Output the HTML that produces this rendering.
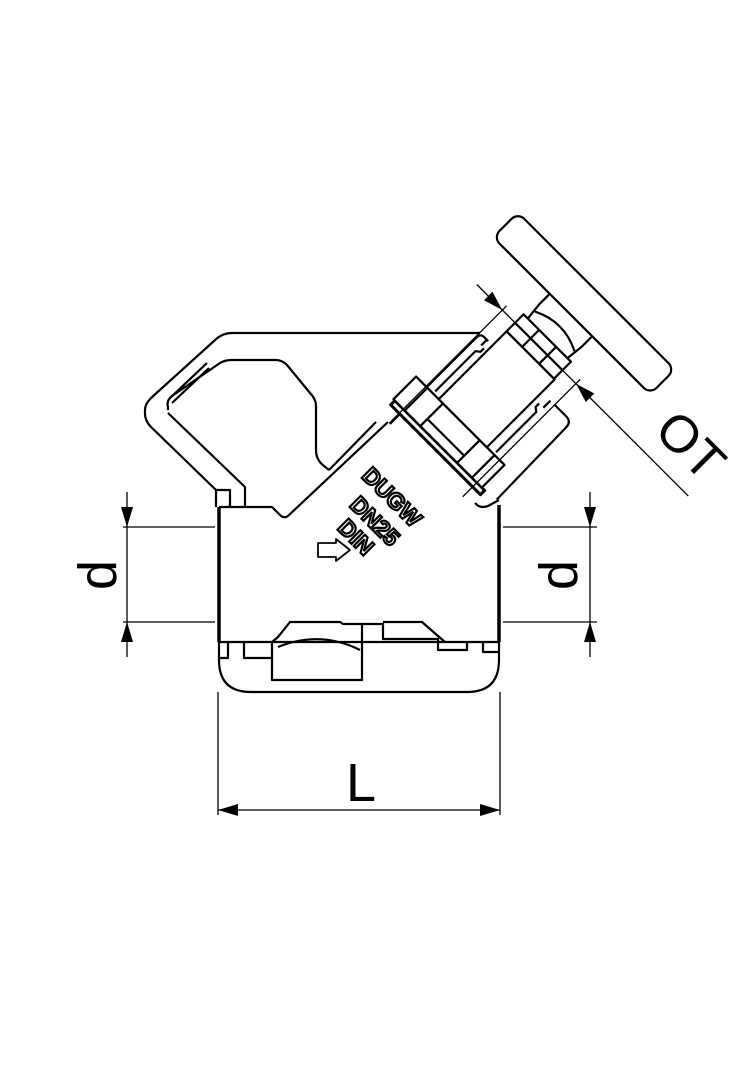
<!DOCTYPE html>
<html><head><meta charset="utf-8"><style>
html,body{margin:0;padding:0;background:#fff}
svg{display:block}
text{font-family:"Liberation Sans",sans-serif}
</style></head><body>
<svg width="756" height="1080" viewBox="0 0 756 1080" xmlns="http://www.w3.org/2000/svg">
<rect width="756" height="1080" fill="#fff"/>
<g fill="none" stroke="#000" stroke-width="2.2" stroke-linejoin="round">
<!-- outer loop -->
<path d="M232,333 L480,333 M232,333 Q222,333 214,341 L151,398 Q145,404 145,410 L145,414 Q145,420 150,426 L216,490 L216,507"/>
<!-- rib -->
<path d="M170,398 L207,363 M172,403 L209,368"/>
<!-- inner window -->
<path d="M168,410 L168,407 Q166,401 172,396 L220,363 Q225,360 232,360 L276,360 Q282,360 287,365 L310,393 Q316,399 316,406 L316,450 Q316,460 324,466 L329,470 M168,413 L245,487 L245,507"/>
<path d="M216,490 L230,490 L230,507"/>
<!-- body -->
<path d="M219,507 L272,507 L281,516 Q285,519 289,515 L388,422"/>
<path d="M329,470 L376,422"/>
<path d="M219,507 L219,642 L219,660 Q219,692 251,692 L467,692 Q499,692 499,660 L499,507"/>
<path d="M219,507 L219,642" stroke-width="3.5"/>
<path d="M499,505 L499,642" stroke-width="3.5"/>
<path d="M475,503 Q480,509 488,506 L499,500"/>
<!-- bottom details -->
<path d="M219,642 L498,642"/>
<path d="M220,658 L228,658 L228,642 M244,642 L244,658 L272,658 L272,680 L362,680 L362,624 L383,624 L383,639 L438,639 L438,650 L467,650 L467,642 M483,642 L483,652 L498,652"/>
<path d="M272,658 L272,642 L278,637 L290,622 L340,622 L343,624 L362,624 M383,622 L422,622 L438,636 L445,642"/>
<path d="M278,647 Q320,630 360,650"/>
</g>
<!-- bonnet assembly, rotated frame -->
<g transform="translate(426,460) rotate(-45)" fill="none" stroke="#000" stroke-width="2.2" stroke-linejoin="round">
<!-- housing -->
<path d="M0,-51 L122,-51 Q128,-51 128,-46 L128,-40"/>
<path d="M22,78 L122,76 Q130,76 130,68 L130,52"/>
<path d="M55,-42 L112,-42 L115,-38 L120,-38 M55,44 L112,44 L115,40 L120,40 M120,-42 L128,-42 M120,46 L130,46"/>
<!-- flange -->
<rect x="14" y="-64" width="6" height="127" fill="#fff" stroke-width="3"/>
<!-- big nut -->
<rect x="20" y="-66" width="32" height="125" fill="#fff"/>
<path d="M20,-28 L52,-28 M20,24 L52,24 M30,-28 L30,24 M20,-50 L52,-50 M20,45 L52,45"/>
<!-- sleeve -->
<rect x="52" y="-34" width="96" height="68" fill="#fff"/>
<!-- small nut -->
<rect x="148" y="-34" width="24" height="67" fill="#fff"/>
<path d="M148,-12 L172,-12 M148,12 L172,12 M160,-34 L160,33"/>
<!-- hub -->
<path d="M172,-28 L190,-30 L205,-30 M172,28 L190,30 L205,30 M182,-28 Q196,0 182,28"/>
<!-- wheel -->
<rect x="205" y="-110" width="35" height="222" rx="9" fill="#fff"/>
<!-- OT extension/dimension -->
<g stroke-width="1.3">
<path d="M0,-52 L166,-52 M0,52 L166,52 M160,-88 L160,211"/>
</g>
<path d="M160,-52 L154,-72 L166,-72 Z M160,52 L154,72 L166,72 Z" fill="#000" stroke="none"/>
</g>
<!-- dimension lines -->
<g stroke="#000" stroke-width="1.3" fill="none">
<path d="M123,527 L215,527 M123,622 L215,622 M127,492 L127,657"/>
<path d="M503,527 L597,527 M503,622 L597,622 M590,492 L590,657"/>
<path d="M218,692 L218,815 M500,692 L500,815 M218,810 L500,810"/>
</g>
<g fill="#000">
<path d="M127,527 L121,507 L133,507 Z M127,622 L121,642 L133,642 Z"/>
<path d="M590,527 L584,507 L596,507 Z M590,622 L584,642 L596,642 Z"/>
<path d="M218,810 L238,804 L238,816 Z M500,810 L480,804 L480,816 Z"/>
</g>
<text x="0" y="0" font-size="54" transform="translate(116,575) rotate(-90)" text-anchor="middle">d</text>
<text x="0" y="0" font-size="54" transform="translate(577,575) rotate(-90)" text-anchor="middle">d</text>
<text x="361" y="801" font-size="54" text-anchor="middle">L</text>
<text x="0" y="0" font-size="52" transform="translate(678,458) rotate(45)" text-anchor="middle">OT</text>
<!-- markings -->
<g font-size="23" font-weight="bold" fill="#fff" stroke="#000" stroke-width="2.2" text-anchor="middle">
<text transform="translate(392,497) rotate(45)" y="8">DUGW</text>
<text transform="translate(375,521) rotate(45)" y="8">DN25</text>
<text transform="translate(356,537) rotate(45)" y="8">DIN</text>
</g>
<path d="M318,543 L336,543 L336,539 L350,550 L336,561 L336,557 L318,557 Z" fill="#fff" stroke="#000" stroke-width="1.8" stroke-linejoin="round"/>
</svg>
</body></html>
